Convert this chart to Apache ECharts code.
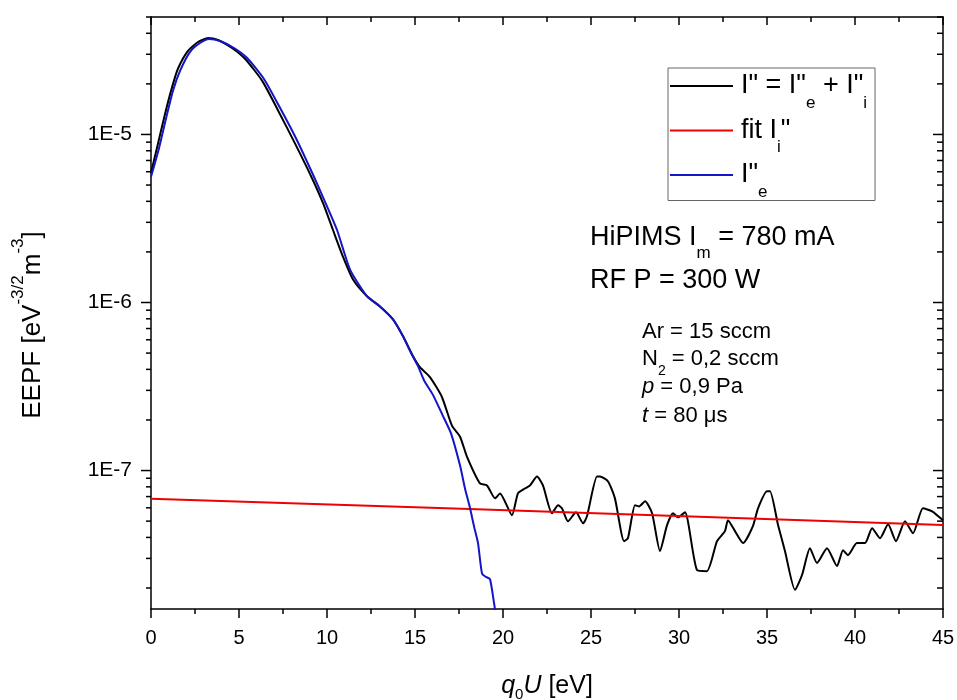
<!DOCTYPE html>
<html>
<head>
<meta charset="utf-8">
<title>EEPF</title>
<script src="https://cdn.jsdelivr.net/npm/echarts@6/dist/echarts.min.js"></script>
<style>
  html, body { margin: 0; padding: 0; background: #fff; }
  #chart { width: 957px; height: 700px; }
</style>
</head>
<body>
<div id="chart"></div>
<script>
// Measured second derivative I" = I"e + I"i (electron energy, eV -> EEPF)
const totalX = [0, 0.40, 0.80, 1.19, 1.53, 2.10, 2.67, 3.24, 3.81, 4.60, 5.34, 6.31, 7.22, 8.18, 9.15,
  9.77, 10.34, 10.91, 11.48, 12.27, 13.01, 13.75, 14.32, 14.89, 15.28, 15.85, 16.53, 17.10, 17.56, 17.95,
  18.69, 19.09, 19.55, 19.83, 20.51, 20.85, 21.25, 21.53, 21.93, 22.27, 22.78, 23.13, 23.35, 23.69, 24.15,
  24.55, 24.77, 25.34, 25.51, 25.97, 26.36, 26.88, 27.10, 27.50, 27.73, 28.07, 28.47, 28.92, 29.32, 29.66,
  29.94, 30.34, 31.02, 31.59, 32.16, 32.61, 32.78, 33.18, 33.64, 34.20, 34.49, 35.00, 35.17, 35.63, 36.02,
  36.59, 36.99, 37.44, 37.84, 38.41, 38.98, 39.32, 39.60, 40.11, 40.57, 40.97, 41.42, 41.88, 42.33, 42.84,
  43.30, 43.86, 44.38, 45.00];
const totalY = [5.9e-6, 8.85e-6, 1.33e-5, 1.90e-5, 2.46e-5, 3.14e-5, 3.55e-5, 3.75e-5, 3.65e-5, 3.27e-5, 2.82e-5, 2.09e-5, 1.39e-5, 8.85e-6, 5.49e-6,
  3.91e-6, 2.70e-6, 1.87e-6, 1.37e-6, 1.09e-6, 9.47e-7, 7.93e-7, 6.29e-7, 4.79e-7, 4.12e-7, 3.60e-7, 2.74e-7, 1.85e-7, 1.59e-7, 1.21e-7,
  8.38e-8, 8.15e-8, 6.83e-8, 7.31e-8, 5.42e-8, 7.31e-8, 7.82e-8, 8.15e-8, 9.21e-8, 8.15e-8, 5.57e-8, 6.21e-8, 5.96e-8, 4.99e-8, 5.64e-8,
  4.85e-8, 5.34e-8, 9.21e-8, 9.21e-8, 8.61e-8, 6.83e-8, 3.80e-8, 3.96e-8, 6.21e-8, 6.12e-8, 6.56e-8, 5.57e-8, 3.32e-8, 4.73e-8, 5.57e-8,
  5.27e-8, 5.64e-8, 2.56e-8, 2.52e-8, 3.80e-8, 4.36e-8, 5.06e-8, 4.36e-8, 3.70e-8, 4.67e-8, 5.96e-8, 7.52e-8, 7.52e-8, 4.73e-8, 3.32e-8,
  1.95e-8, 2.39e-8, 3.45e-8, 2.82e-8, 3.45e-8, 2.70e-8, 3.36e-8, 3.14e-8, 3.70e-8, 3.70e-8, 4.54e-8, 3.96e-8, 4.79e-8, 3.80e-8, 4.99e-8,
  4.24e-8, 5.96e-8, 5.72e-8, 5.06e-8];

// Exponential fit of the ion part I"i
const fitX = [0, 18.1, 45];
const fitY = [6.8e-8, 5.9e-8, 4.75e-8];

// Electron part I"e
const electronX = [0, 0.45, 0.85, 1.25, 1.65, 2.22, 2.78, 3.30, 3.92, 4.72, 5.45, 6.42, 7.33, 8.30, 9.26,
  9.77, 10.57, 11.31, 12.27, 13.01, 13.75, 14.32, 14.78, 15.17, 15.51, 16.02, 16.59, 17.05, 17.56, 17.84,
  18.13, 18.35, 18.58, 18.81, 19.03, 19.26, 19.49, 19.66];
const electronY = [5.6e-6, 8.26e-6, 1.24e-5, 1.82e-5, 2.39e-5, 3.10e-5, 3.50e-5, 3.70e-5, 3.60e-5, 3.27e-5, 2.86e-5, 2.14e-5, 1.44e-5, 9.21e-6, 5.6e-6,
  4.24e-6, 2.70e-6, 1.57e-6, 1.09e-6, 9.47e-7, 7.93e-7, 6.29e-7, 4.99e-7, 4.18e-7, 3.45e-7, 2.82e-7, 2.11e-7, 1.66e-7, 1.07e-7, 7.82e-8,
  5.96e-8, 4.67e-8, 3.70e-8, 2.43e-8, 2.33e-8, 2.26e-8, 1.63e-8, 1.24e-8];

// Axis ranges and ticks
const xMin = 0, xMax = 45, xStep = 5;
const yMin = 1.5e-8, yMax = 5e-5;
const yMajorTicks = [1e-7, 1e-6, 1e-5];
const yMinorTicks = [];
for (let e = -8; e <= -5; e++) {
  for (let m = 2; m <= 9; m++) {
    const v = m * Math.pow(10, e);
    if (v >= yMin && v <= yMax) yMinorTicks.push(+v.toPrecision(3));
  }
}

const FONT = '"Liberation Sans", Arial, Helvetica, sans-serif';
const zip = (xs, ys) => xs.map((x, i) => [x, ys[i]]);

// Rich-text token: every token is top-aligned, its vertical place is set by the top padding
function tok(size, padTop, lineHeight, extra) {
  return Object.assign({
    fontFamily: FONT, fontSize: size, lineHeight: lineHeight,
    verticalAlign: 'top', padding: [padTop, 0, 0, 0], color: '#000', fill: '#000'
  }, extra || {});
}

const NAME_TOTAL = 'I" = I"e + I"i';
const NAME_FIT = 'fit I"i';
const NAME_ELEC = 'I"e';
const legendRich = {
  [NAME_TOTAL]: '{t|I" = I"}{s|e}{t| + I"}{s|i}',
  [NAME_FIT]: '{t|fit I}{s|i}{t|"}',
  [NAME_ELEC]: '{t|I"}{s|e}'
};

const tickData = yMajorTicks.map(v => [xMin, v, 1]).concat(yMinorTicks.map(v => [xMin, v, 0]));

const chart = echarts.init(document.getElementById('chart'), null, { renderer: 'canvas' });

const axisLineStyle = { color: '#000', width: 1.5 };

chart.setOption({
  animation: false,
  backgroundColor: '#fff',
  textStyle: { fontFamily: FONT, color: '#000' },
  grid: { left: 151, right: 14, top: 17, bottom: 91, containLabel: false, outerBoundsMode: 'none' },
  legend: {
    orient: 'vertical',
    left: 668,
    top: 68,
    data: [NAME_TOTAL, NAME_FIT, NAME_ELEC],
    selectedMode: false,
    icon: 'rect',
    itemWidth: 63,
    itemHeight: 2,
    itemGap: 1,
    padding: [0, 8, 0, 2],
    borderColor: '#666',
    borderWidth: 1,
    formatter: name => legendRich[name],
    textStyle: {
      padding: [0, 0, 0, 3],
      rich: {
        t: tok(27, 4.5, 36),
        s: tok(17, 26.5, 36)
      }
    }
  },
  xAxis: [
    {
      type: 'value', position: 'bottom', min: xMin, max: xMax, interval: xStep,
      axisLine: { show: true, onZero: false, lineStyle: axisLineStyle },
      axisTick: { show: true, inside: false, length: 9, lineStyle: axisLineStyle },
      minorTick: { show: true, splitNumber: 2, length: 5, lineStyle: axisLineStyle },
      splitLine: { show: false },
      axisLabel: { fontSize: 20, color: '#000', margin: 19, fontFamily: FONT },
      name: '{i|q}{s|0}{i|U}{n| [eV]}',
      nameLocation: 'middle',
      nameGap: 60,
      nameTextStyle: {
        rich: {
          i: tok(25, 4.5, 34, { fontStyle: 'italic' }),
          s: tok(15, 18.5, 34),
          n: tok(25, 4.5, 34)
        }
      }
    },
    {
      type: 'value', position: 'top', min: xMin, max: xMax, interval: xStep,
      axisLine: { show: true, onZero: false, lineStyle: axisLineStyle },
      axisTick: { show: true, inside: true, length: 8, lineStyle: axisLineStyle },
      minorTick: { show: true, splitNumber: 2, length: 5, lineStyle: axisLineStyle },
      splitLine: { show: false },
      axisLabel: { show: false }
    }
  ],
  yAxis: [
    {
      type: 'log', logBase: 10, position: 'left', min: yMin, max: yMax,
      axisLine: { show: true, onZero: false, lineStyle: axisLineStyle },
      axisTick: { show: false },
      minorTick: { show: false },
      splitLine: { show: false },
      axisLabel: {
        fontSize: 21, color: '#000', margin: 19, fontFamily: FONT,
        showMinLabel: false, showMaxLabel: false,
        formatter: v => {
          const e = Math.log10(v);
          return Math.abs(e - Math.round(e)) < 1e-6 ? '1E' + Math.round(e) : '';
        }
      },
      name: '{t|EEPF [eV}{u|-3/2}{t|m}{u|-3}{t|]}',
      nameLocation: 'middle',
      nameGap: 106,
      nameTextStyle: {
        padding: [0, 24, 0, 0],
        rich: {
          t: tok(26, 15, 40),
          u: tok(17, 5, 40)
        }
      }
    },
    {
      type: 'log', logBase: 10, position: 'right', min: yMin, max: yMax,
      axisLine: { show: true, onZero: false, lineStyle: axisLineStyle },
      axisTick: { show: false },
      minorTick: { show: false },
      splitLine: { show: false },
      axisLabel: { show: false }
    }
  ],
  graphic: [
    {
      type: 'text', left: 590, top: 218, silent: true,
      style: {
        text: '{t|HiPIMS I}{s|m}{t| = 780 mA}',
        rich: { t: tok(27, 6.5, 40), s: tok(17, 26.5, 40) }
      }
    },
    {
      type: 'text', left: 590, top: 261, silent: true,
      style: { text: '{t|RF P = 300 W}', rich: { t: tok(27, 6.5, 40) } }
    },
    {
      type: 'text', left: 642, top: 315, silent: true,
      style: { text: '{t|Ar = 15 sccm}', rich: { t: tok(22, 6, 34) } }
    },
    {
      type: 'text', left: 642, top: 342, silent: true,
      style: { text: '{t|N}{s|2}{t| = 0,2 sccm}', rich: { t: tok(22, 6, 34), s: tok(14, 22, 34) } }
    },
    {
      type: 'text', left: 642, top: 370, silent: true,
      style: { text: '{i|p}{t| = 0,9 Pa}', rich: { i: tok(22, 6, 34, { fontStyle: 'italic' }), t: tok(22, 6, 34) } }
    },
    {
      type: 'text', left: 642, top: 399, silent: true,
      style: { text: '{i|t}{t| = 80 μs}', rich: { i: tok(22, 6, 34, { fontStyle: 'italic' }), t: tok(22, 6, 34) } }
    }
  ],
  series: [
    {
      name: NAME_TOTAL, type: 'line', xAxisIndex: 0, yAxisIndex: 0,
      data: zip(totalX, totalY), showSymbol: false, smooth: 0.2,
      lineStyle: { color: '#000', width: 2 }, itemStyle: { color: '#000' }, z: 3
    },
    {
      name: NAME_FIT, type: 'line', xAxisIndex: 0, yAxisIndex: 0,
      data: zip(fitX, fitY), showSymbol: false,
      lineStyle: { color: '#f00000', width: 2 }, itemStyle: { color: '#f00000' }, z: 4
    },
    {
      name: NAME_ELEC, type: 'line', xAxisIndex: 0, yAxisIndex: 0,
      data: zip(electronX, electronY), showSymbol: false, smooth: 0.2,
      lineStyle: { color: '#1414c8', width: 2 }, itemStyle: { color: '#1414c8' }, z: 5
    },
    {
      // minor and major ticks on the logarithmic left (outward) and right (inward) axes
      type: 'custom', xAxisIndex: 0, yAxisIndex: 0, silent: true, clip: false, z: 6,
      data: tickData,
      renderItem: (params, api) => {
        const v = api.value(1);
        const major = api.value(2) === 1;
        const pl = api.coord([xMin, v]);
        const pr = api.coord([xMax, v]);
        const lenL = major ? 10 : 5;
        const lenR = major ? 10 : 6;
        const st = { stroke: '#000', lineWidth: 1.5 };
        return {
          type: 'group',
          children: [
            { type: 'line', shape: { x1: pl[0] - lenL, y1: pl[1], x2: pl[0], y2: pl[1] }, style: st },
            { type: 'line', shape: { x1: pr[0] - lenR, y1: pr[1], x2: pr[0], y2: pr[1] }, style: st }
          ]
        };
      }
    }
  ]
});
</script>
</body>
</html>
